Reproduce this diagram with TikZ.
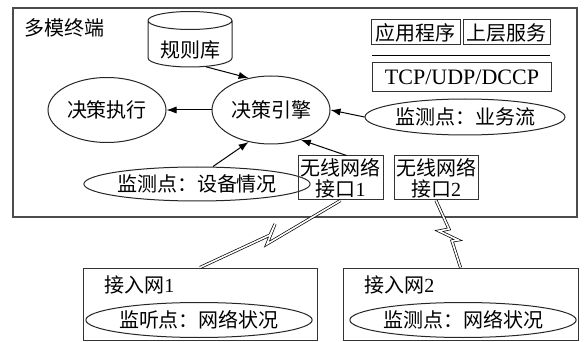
\documentclass[tikz,border=0pt]{standalone}
\usepackage{fontspec}
\setmainfont{Liberation Serif}
\newfontfamily\cjk{Noto Sans CJK SC}
\usetikzlibrary{shapes.geometric,arrows.meta}

\begin{document}
\begin{tikzpicture}[x=0.5pt, y=-0.5pt,
  every node/.style={font=\cjk\fontsize{10}{10.5}\selectfont, inner sep=0pt},
  box/.style={draw=black!80, line width=0.5pt},
  oval/.style={ellipse, draw=black!85, line width=0.5pt},
  arr/.style={-{Latex[length=5pt,width=3.6pt]}, line width=0.5pt},
  bolt/.style={double, double distance=0.8pt, line width=0.35pt, draw=black}]
\useasboundingbox (0,0) rectangle (584,342);

% Terminal
\draw[draw=black!70, line width=0.8pt] (13,8) rectangle (577,217);
\node[anchor=west] (termlabel) at (24,28) {多模终端};

% Decision
\node[shape=cylinder, shape border rotate=90, aspect=0.3, draw=black!85, line width=0.5pt,
  minimum width=42pt, minimum height=21.5pt, text height=14pt, text depth=0pt] (rules) at (190,44) {规则库};
\node[oval, minimum width=59pt, minimum height=32.5pt] (exec) at (107,110) {决策执行};
\node[oval, minimum width=59pt, minimum height=34pt] (engine) at (271,110) {决策引擎};

% Protocol stack
\node[box, minimum width=44.5pt, minimum height=12.5pt] (app) at (415.5,32.5) {应用程序};
\node[box, minimum width=43.5pt, minimum height=12.5pt] (svc) at (506.5,32.5) {上层服务};
\draw[line width=0.7pt] (372,55.5) -- (550,55.5);
\node[box, minimum width=89.5pt, minimum height=14.5pt, font=\rmfamily\fontsize{11}{13}\selectfont] (tcp) at (462,77.5) {TCP/UDP/DCCP};

% Monitors
\node[oval, minimum width=100pt, minimum height=18pt] (flow) at (465,117) {监测点：业务流};
\node[oval, minimum width=100pt, minimum height=17pt] (dev) at (197,184) {监测点：设备情况};

% Interfaces
\node[box, minimum width=42.5pt, minimum height=22pt, align=center] (if1) at (340.5,178) {无线网络\\接口{\rmfamily 1}};
\node[box, minimum width=42pt, minimum height=22pt, align=center] (if2) at (436,178) {无线网络\\接口{\rmfamily 2}};

% Access networks
\node[box, minimum width=117pt, minimum height=36pt] (net1) at (200,304) {};
\node[anchor=west] (net1label) at (104,285) {接入网{\rmfamily 1}};
\node[oval, minimum width=106pt, minimum height=17.5pt] (listen1) at (199,320) {监听点：网络状况};
\node[box, minimum width=117.5pt, minimum height=36pt] (net2) at (460.5,304) {};
\node[anchor=west] (net2label) at (364,285) {接入网{\rmfamily 2}};
\node[oval, minimum width=106.5pt, minimum height=17.5pt] (listen2) at (463,320) {监测点：网络状况};

% Arrows
\draw[arr] (engine.west) -- (exec.east);
\draw[arr] (rules.-55) -- (engine.125);
\draw[arr] (flow.west) -- (engine.east);
\draw[arr] ([xshift=8pt]dev.north) -- (engine.235);
\draw[arr] ([xshift=3pt]if1.north) -- (engine.-45);

% Radio links
\draw[bolt] (net1.north) -- (270,235) -- (275,224) -- (267,244) -- (if1.south);
\draw[bolt] (if2.south) -- (449,229) -- (439,231) -- (458,240) -- (452,241) -- (net2.north);
\end{tikzpicture}
\end{document}
